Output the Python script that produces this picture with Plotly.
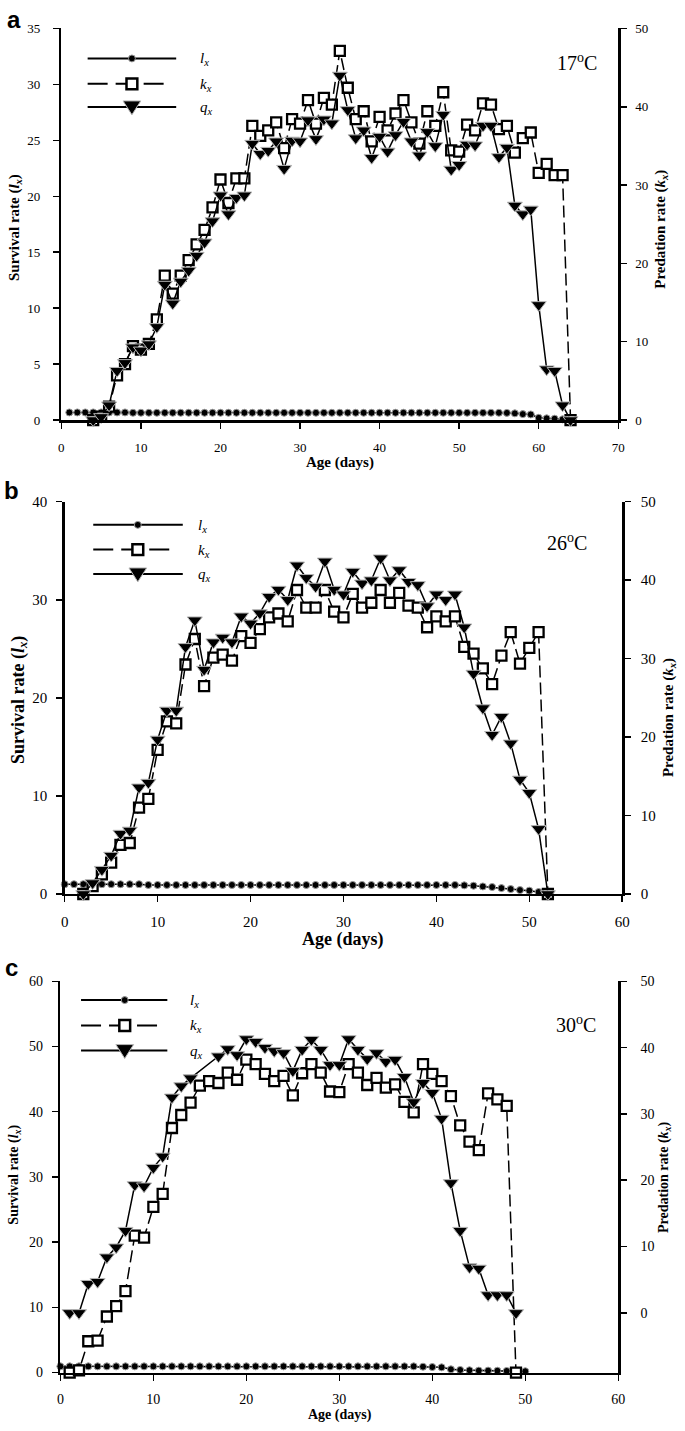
import plotly.graph_objects as go

FW, FH = 685, 1431

# ---------------- DATA ----------------
# Panel a (17 C)
days_a_l = list(range(1, 65))
lx_a = [0.68, 0.68, 0.68, 0.68, 0.68, 0.68, 0.68, 0.68, 0.65, 0.65,
        0.65, 0.65, 0.65, 0.65, 0.65, 0.65, 0.65, 0.65, 0.65, 0.65,
        0.65, 0.65, 0.65, 0.65, 0.65, 0.65, 0.65, 0.65, 0.65, 0.65,
        0.65, 0.65, 0.65, 0.65, 0.65, 0.65, 0.65, 0.65, 0.65, 0.65,
        0.65, 0.65, 0.65, 0.65, 0.65, 0.65, 0.65, 0.65, 0.65, 0.65,
        0.65, 0.65, 0.65, 0.65, 0.65, 0.64, 0.6, 0.53, 0.5, 0.2,
        0.15, 0.12, 0.06, 0.02]
days_a = list(range(4, 65))
kx_a = [0.0, 0.3, 1.2, 4.0, 5.0, 6.6, 6.3, 6.8, 9.0, 12.9,
        11.3, 12.9, 14.3, 15.7, 17.0, 19.0, 21.5, 19.4, 21.6, 21.6,
        26.3, 25.4, 25.9, 26.6, 24.3, 26.9, 26.5, 28.6, 26.5, 28.8,
        28.2, 33.0, 29.7, 26.9, 27.6, 24.9, 27.1, 25.9, 27.4, 28.6,
        26.6, 24.7, 27.6, 26.3, 29.3, 24.1, 24.0, 26.4, 25.9, 28.3,
        28.2, 26.0, 26.3, 23.9, 25.2, 25.7, 22.1, 22.9, 21.9, 21.9,
        0.0]
qx_a = [0.0, 0.4, 1.9, 6.3, 7.3, 9.3, 8.9, 9.7, 11.9, 17.3,
        14.9, 17.7, 19.1, 21.0, 22.7, 25.4, 28.7, 26.3, 28.4, 28.7,
        35.3, 34.0, 34.4, 35.6, 32.1, 35.7, 35.6, 38.3, 35.9, 38.4,
        37.9, 44.0, 39.6, 36.0, 37.0, 33.5, 36.2, 34.3, 36.4, 38.1,
        35.6, 33.8, 36.8, 35.0, 39.0, 32.0, 32.6, 35.2, 35.1, 37.6,
        37.6, 33.6, 34.8, 27.4, 26.3, 26.9, 14.7, 6.5, 6.3, 1.9,
        0.0]

# Panel b (26 C)
days_b_l = list(range(0, 53))
lx_b = [1.0, 1.0, 1.0, 1.0, 1.0, 1.0, 1.0, 1.0, 1.0, 0.92,
        0.92, 0.92, 0.92, 0.92, 0.92, 0.92, 0.92, 0.92, 0.92, 0.92,
        0.92, 0.92, 0.92, 0.92, 0.92, 0.92, 0.92, 0.92, 0.92, 0.92,
        0.92, 0.92, 0.92, 0.92, 0.92, 0.92, 0.92, 0.92, 0.92, 0.92,
        0.92, 0.92, 0.92, 0.88, 0.84, 0.77, 0.71, 0.6, 0.5, 0.4,
        0.34, 0.2, 0.1]
days_b = list(range(2, 53))
kx_b = [0.0, 0.8, 2.0, 3.2, 5.0, 5.2, 8.8, 9.7, 14.7, 17.6,
        17.4, 23.4, 26.0, 21.2, 24.1, 24.4, 23.8, 26.3, 25.6, 27.0,
        28.2, 28.6, 27.8, 31.0, 29.2, 29.2, 31.0, 28.8, 28.2, 30.6,
        29.2, 29.7, 31.0, 29.7, 30.7, 29.4, 29.2, 27.2, 28.3, 27.8,
        28.3, 25.2, 24.5, 23.0, 21.4, 24.3, 26.7, 23.5, 25.1, 26.7,
        0.0]
qx_b = [0.0, 1.4, 3.1, 4.9, 7.7, 8.1, 13.6, 14.2, 19.7, 23.4,
        23.4, 31.5, 34.9, 28.6, 32.1, 32.7, 32.1, 35.4, 34.5, 35.8,
        37.9, 38.8, 37.5, 41.9, 40.3, 39.2, 42.4, 38.8, 38.2, 41.1,
        39.6, 40.0, 42.8, 40.0, 41.3, 39.8, 39.4, 36.7, 38.2, 37.5,
        38.2, 34.0, 28.1, 23.7, 20.3, 22.6, 19.2, 14.6, 12.9, 8.3,
        0.0]

# Panel c (30 C)
days_c_l = list(range(0, 51))
lx_c = [0.95, 0.95, 0.95, 0.95, 0.95, 0.95, 0.95, 0.95, 0.95, 0.95,
        0.95, 0.95, 0.95, 0.95, 0.95, 0.95, 0.95, 0.95, 0.95, 0.95,
        0.95, 0.95, 0.95, 0.95, 0.95, 0.95, 0.95, 0.95, 0.95, 0.95,
        0.95, 0.95, 0.95, 0.95, 0.95, 0.95, 0.95, 0.95, 0.95, 0.9,
        0.85, 0.8, 0.5, 0.4, 0.35, 0.3, 0.3, 0.28, 0.25, 0.2,
        0.2]
days_c_k = list(range(1, 50))
kx_c = [0.0, 0.35, 4.8, 4.9, 8.6, 10.2, 12.5, 21.0, 20.7, 25.4,
        27.4, 37.5, 39.5, 41.4, 44.0, 44.7, 44.4, 46.0, 44.9, 48.0,
        47.3, 45.8, 44.7, 45.5, 42.5, 45.9, 47.3, 46.0, 43.1, 43.0,
        47.3, 46.0, 44.1, 45.2, 43.7, 44.2, 41.5, 39.9, 47.3, 45.8,
        44.7, 42.4, 37.9, 35.4, 34.1, 42.8, 41.9, 40.9, 0.0]
days_c_q = [1, 2, 3, 4, 5, 6, 7, 8, 9, 10, 11, 12, 13, 14,
            17, 18, 19, 20, 21, 22, 23, 24, 25, 26, 27, 28, 29, 30,
            31, 32, 33, 34, 35, 36, 37, 38, 39, 40, 41, 42, 43, 44,
            45, 46, 47, 48, 49]
qx_c = [0.0, 0.0, 4.4, 4.7, 8.4, 9.9, 12.4, 19.3, 19.1, 21.9, 23.6, 32.5, 34.2, 35.4,
        38.7, 39.8, 38.9, 41.3, 40.9, 40.0, 39.5, 39.2, 36.5, 39.7, 41.2, 39.7, 37.4, 37.4,
        41.3, 39.7, 38.3, 39.2, 37.9, 38.2, 35.6, 31.8, 34.7, 33.2, 29.3, 19.6, 12.4, 6.9,
        6.7, 2.7, 2.7, 2.7, 0.0]

temps = ["17<sup>o</sup>C", "26<sup>o</sup>C", "30<sup>o</sup>C"]
panel_letters = ["a", "b", "c"]
left_ranges = [[0, 35], [0, 40], [0, 60]]
left_dticks = [5, 10, 10]
right_ranges = [[0, 50], [0, 50], [-9, 50]]
x_ranges = [[0, 70], [0, 60], [0, 60]]

# ---------------- LAYOUT GEOMETRY (page pixels) ----------------
SERIF = "Liberation Serif"
def fx(p):
    return p / FW
def fy(p):
    return 1 - p / FH

geo = [
    dict(x0=58.3, x1=624.3, top=20.7, bot=416.7, tick=13, ttl=15, rttl=15, ls=10, rs=6, xs=8),
    dict(x0=61.7, x1=628.3, top=499.3, bot=896.0, tick=15, ttl=18, rttl=15, ls=6, rs=7, xs=7),
    dict(x0=57.3, x1=624.3, top=984.3, bot=1380.0, tick=14, ttl=14, rttl=14, ls=6, rs=11, xs=6),
]

fig = go.Figure()

series = [
    (days_a_l, lx_a, days_a, kx_a, days_a, qx_a),
    (days_b_l, lx_b, days_b, kx_b, days_b, qx_b),
    (days_c_l, lx_c, days_c_k, kx_c, days_c_q, qx_c),
]

for i, (dl, l, dk, k, dq, q) in enumerate(series):
    xa = "x" if i == 0 else f"x{i+1}"
    yl = "y" if i == 0 else f"y{2*i+1}"
    yr = f"y{2*i+2}"
    fig.add_trace(go.Scatter(x=dl, y=l, xaxis=xa, yaxis=yl, mode="lines+markers",
                             line=dict(color="black", width=1.5),
                             marker=dict(symbol="circle", size=7, color="black",
                                         line=dict(color="#9a9a9a", width=1)),
                             cliponaxis=False, showlegend=False))
    fig.add_trace(go.Scatter(x=dk, y=k, xaxis=xa, yaxis=yl, mode="lines+markers",
                             line=dict(color="black", width=1.5, dash="12px,5px"),
                             marker=dict(symbol="square", size=10, color="white",
                                         line=dict(color="black", width=2.3)),
                             cliponaxis=False, showlegend=False))
    fig.add_trace(go.Scatter(x=dq, y=q, xaxis=xa, yaxis=yr, mode="lines+markers",
                             line=dict(color="black", width=1.5),
                             marker=dict(symbol="triangle-down", size=13, color="black",
                                         line=dict(color="#b5b5b5", width=1)),
                             cliponaxis=False, showlegend=False))

layout = dict(width=FW, height=FH, autosize=False, paper_bgcolor="white", plot_bgcolor="white",
              margin=dict(l=0, r=0, t=0, b=0), showlegend=False, hovermode=False)

for i, g in enumerate(geo):
    xk = "xaxis" if i == 0 else f"xaxis{i+1}"
    ylk = "yaxis" if i == 0 else f"yaxis{2*i+1}"
    yrk = f"yaxis{2*i+2}"
    xa = "x" if i == 0 else f"x{i+1}"
    yl = "y" if i == 0 else f"y{2*i+1}"
    common = dict(showline=True, linewidth=2.5, linecolor="black", ticks="outside",
                  ticklen=6, tickwidth=1.5, tickcolor="black", showgrid=False,
                  zeroline=False, tickfont=dict(family=SERIF, size=g["tick"], color="black"))
    layout[xk] = dict(common, domain=[fx(g["x0"]), fx(g["x1"])], range=x_ranges[i],
                      dtick=10, tick0=0, anchor=yl, ticklabelstandoff=g["xs"])
    layout[ylk] = dict(common, domain=[fy(g["bot"]), fy(g["top"])], range=left_ranges[i],
                       dtick=left_dticks[i], tick0=0, anchor=xa, ticklabelstandoff=g["ls"])
    layout[yrk] = dict(common, overlaying=yl, side="right", range=right_ranges[i],
                       dtick=10, tick0=0, anchor=xa, ticklabelstandoff=g["rs"])

fig.update_layout(**layout)

ann = []
shapes = []
title_font = lambda s: dict(family=SERIF, size=s, color="black")

left_title_pos = [(11, 221.7), (15, 700), (11, 1180)]
right_title_pos = [(668, 224), (676, 718), (672, 1182)]
age_pos = [(341, 460), (345, 942), (341, 1423)]
temp_pos = [(582.5, 55), (572.5, 540), (581.7, 1027.5)]
letter_pos = [(10, 12), (8, 488), (8, 970)]

for i, g in enumerate(geo):
    s = g["ttl"]
    ann.append(dict(text="<b>Survival rate (<i>l<sub>x</sub></i>)</b>", x=fx(left_title_pos[i][0]),
                    y=fy(left_title_pos[i][1]), xref="paper", yref="paper", showarrow=False,
                    textangle=-90, font=title_font(s), xanchor="center", yanchor="middle"))
    ann.append(dict(text="<b>Predation rate (<i>k<sub>x</sub></i>)</b>", x=fx(right_title_pos[i][0]),
                    y=fy(right_title_pos[i][1]), xref="paper", yref="paper", showarrow=False,
                    textangle=-90, font=title_font(g["rttl"]), xanchor="center", yanchor="middle"))
    ann.append(dict(text="<b>Age (days)</b>", x=fx(age_pos[i][0]), y=fy(age_pos[i][1]),
                    xref="paper", yref="paper", showarrow=False, font=title_font(s),
                    xanchor="center", yanchor="middle"))
    ann.append(dict(text=temps[i], x=fx(temp_pos[i][0]), y=fy(temp_pos[i][1]),
                    xref="paper", yref="paper", showarrow=False, font=title_font(20),
                    xanchor="center", yanchor="middle"))
    ann.append(dict(text=f"<b>{panel_letters[i]}</b>", x=fx(letter_pos[i][0]), y=fy(letter_pos[i][1]),
                    xref="paper", yref="paper", showarrow=False,
                    font=dict(family="Liberation Sans", size=24, color="black"),
                    xanchor="center", yanchor="middle"))

# custom legends (page pixel geometry)
legends = [
    dict(x0=85, x1=175, xd=167, xm=130, ys=[51, 76.7, 100], tx=197),
    dict(x0=90.7, x1=181.7, xd=172, xm=136, ys=[522.7, 547.7, 572.3], tx=195),
    dict(x0=78.3, x1=166, xd=158, xm=122.7, ys=[1003.3, 1029, 1054.3], tx=187),
]
labels = ["<i>l<sub>x</sub></i>", "<i>k<sub>x</sub></i>", "<i>q<sub>x</sub></i>"]
for L in legends:
    y0, y1, y2 = L["ys"]
    shapes.append(dict(type="line", xref="paper", yref="paper", x0=fx(L["x0"]), x1=fx(L["x1"]),
                       y0=fy(y0), y1=fy(y0), line=dict(color="black", width=2)))
    shapes.append(dict(type="circle", xref="paper", yref="paper", x0=fx(L["xm"] - 3.5), x1=fx(L["xm"] + 3.5),
                       y0=fy(y0 - 3.5), y1=fy(y0 + 3.5), fillcolor="black", line=dict(color="#9a9a9a", width=1)))
    shapes.append(dict(type="line", xref="paper", yref="paper", x0=fx(L["x0"]), x1=fx(L["xd"]),
                       y0=fy(y1), y1=fy(y1), line=dict(color="black", width=2, dash="20px,8px")))
    shapes.append(dict(type="rect", xref="paper", yref="paper", x0=fx(L["xm"] - 5.5), x1=fx(L["xm"] + 5.5),
                       y0=fy(y1 - 5.5), y1=fy(y1 + 5.5), fillcolor="white", line=dict(color="black", width=2.5)))
    shapes.append(dict(type="line", xref="paper", yref="paper", x0=fx(L["x0"]), x1=fx(L["x1"]),
                       y0=fy(y2), y1=fy(y2), line=dict(color="black", width=2)))
    p = (f"M {fx(L['xm'] - 9)} {fy(y2 - 6)} L {fx(L['xm'] + 9)} {fy(y2 - 6)} "
         f"L {fx(L['xm'])} {fy(y2 + 8)} Z")
    shapes.append(dict(type="path", xref="paper", yref="paper", path=p, fillcolor="black",
                       line=dict(color="#b5b5b5", width=1)))
    for yy, lab in zip(L["ys"], labels):
        ann.append(dict(text=lab, x=fx(L["tx"]), y=fy(yy + 1), xref="paper", yref="paper",
                        showarrow=False, font=dict(family=SERIF, size=15, color="black"),
                        xanchor="left", yanchor="middle"))

fig.update_layout(annotations=ann, shapes=shapes)
fig.write_html("out.html", config={"displayModeBar": False, "staticPlot": True},
               post_script="document.body.style.margin='0';document.body.style.overflow='hidden';")
